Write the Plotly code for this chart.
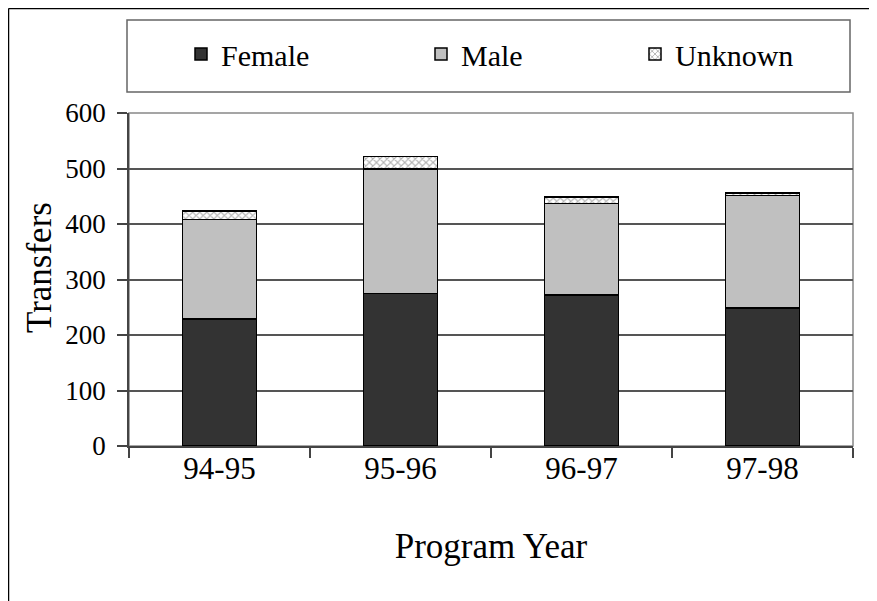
import plotly.graph_objects as go

years = ["94-95", "95-96", "96-97", "97-98"]
female = [229, 275, 272, 249]
male = [179, 224, 165, 202]
unknown = [15, 23, 12, 5]
y_ticks = [0, 100, 200, 300, 400, 500, 600]

FONT = "Liberation Serif"

# page has an 8px body margin, so the figure is laid out 8px smaller
W, H = 869, 593
L, R, T, B = 121, 24, 105, 155
pw, ph = W - L - R, H - T - B

def px2x(px):
    return (px - L) / pw

def py2y(py):
    return (H - B - py) / ph

fig = go.Figure()
fig.add_bar(x=years, y=female, name="Female", legend="legend",
            marker=dict(color="#333333", line=dict(color="black", width=1.5)))
fig.add_bar(x=years, y=male, name="Male", legend="legend2",
            marker=dict(color="#c0c0c0", line=dict(color="black", width=1.5)))
fig.add_bar(x=years, y=unknown, name="Unknown", legend="legend3",
            marker=dict(color="white", line=dict(color="black", width=1.5),
                        pattern=dict(shape="x", fgcolor="#666666", bgcolor="white",
                                     size=5, solidity=0.4)))

shapes = [
    dict(type="rect", xref="paper", yref="paper", x0=0, x1=1, y0=0, y1=1,
         line=dict(color="#888888", width=1.5), layer="below"),
    dict(type="rect", xref="paper", yref="paper", x0=px2x(119), x1=px2x(842),
         y0=py2y(84), y1=py2y(12), line=dict(color="#666666", width=1.5)),
    dict(type="line", xref="paper", yref="paper", x0=px2x(0.5), x1=px2x(W),
         y0=py2y(0.5), y1=py2y(0.5), line=dict(color="black", width=1.5)),
    dict(type="line", xref="paper", yref="paper", x0=px2x(0.5), x1=px2x(0.5),
         y0=py2y(0.5), y1=py2y(H), line=dict(color="black", width=1.5)),
]

def leg(xpx):
    return dict(orientation="h", x=px2x(xpx), y=py2y(46), xanchor="left", yanchor="middle",
                bgcolor="rgba(0,0,0,0)", borderwidth=0,
                font=dict(family=FONT, size=30, color="black"), itemwidth=30)

fig.update_layout(
    width=W, height=H,
    margin=dict(l=L, r=R, t=T, b=B),
    barmode="stack",
    bargap=0.59,
    plot_bgcolor="white", paper_bgcolor="white",
    font=dict(family=FONT, size=26, color="black"),
    showlegend=True,
    legend=leg(173), legend2=leg(413), legend3=leg(627),
    shapes=shapes,
    annotations=[dict(text="Transfers", textangle=-90, xref="paper", yref="paper",
                      x=px2x(31), y=py2y(260), xanchor="center", yanchor="middle",
                      showarrow=False, font=dict(family=FONT, size=35, color="black"))],
    xaxis=dict(
        showgrid=False, ticks="outside", tickson="boundaries", ticklen=10,
        tickcolor="#444444", tickwidth=1.5,
        showline=True, linecolor="#444444", linewidth=1.5,
        title=dict(text="Program Year", font=dict(family=FONT, size=35), standoff=49),
        tickfont=dict(family=FONT, size=31), ticklabelstandoff=-6,
    ),
    yaxis=dict(
        range=[0, 600], tickvals=y_ticks, ticks="outside", ticklen=10,
        tickcolor="#444444", tickwidth=1.5,
        showline=True, linecolor="#444444", linewidth=1.5,
        showgrid=True, gridcolor="#555555", gridwidth=1.5,
        zeroline=False, ticklabelstandoff=6,
        tickfont=dict(family=FONT, size=27),
    ),
)

fig.write_html("out.html")
